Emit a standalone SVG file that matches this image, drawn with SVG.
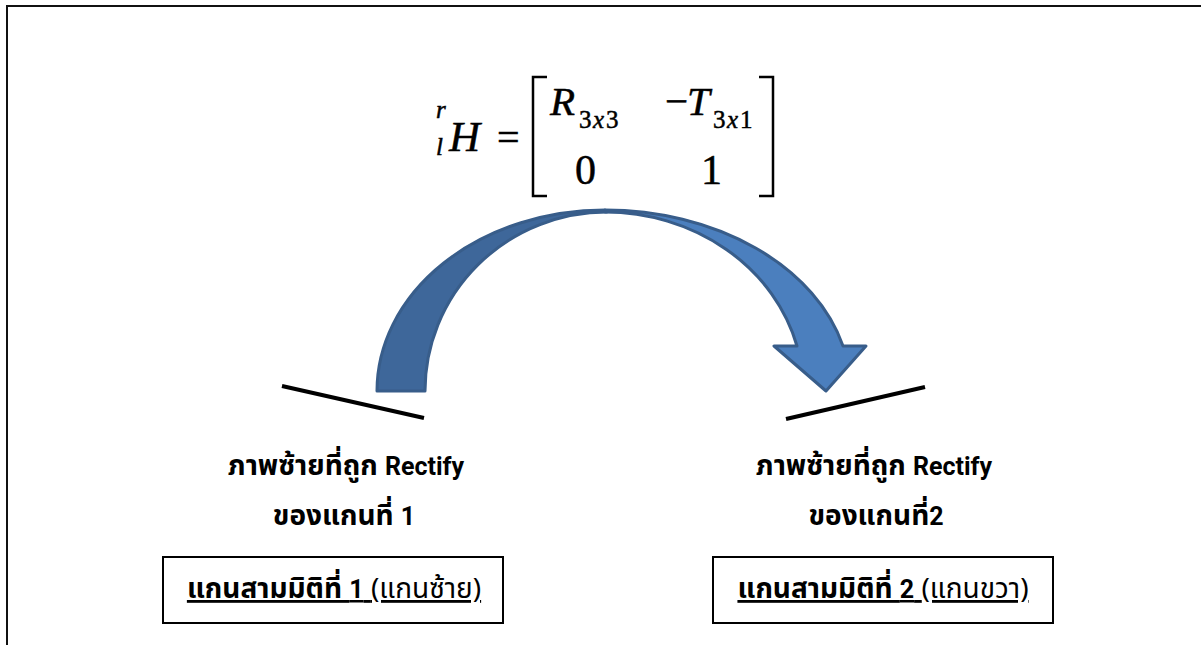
<svg xmlns="http://www.w3.org/2000/svg" width="1201" height="645" viewBox="0 0 1201 645">
<style>
.eq{font-family:"Liberation Serif","Times New Roman",serif;fill:#000;stroke:#000;stroke-width:0.5}
.it{font-style:italic}
.lbl{font-family:"Noto Sans Thai","Noto Sans",Roboto,"DejaVu Sans",sans-serif;font-weight:bold;font-size:28px;fill:#000;text-anchor:middle}
.lat{font-family:Roboto,"Liberation Sans",sans-serif;font-weight:bold;font-size:25px}
.reg{font-weight:normal}
.box{fill:#fff;stroke:#000;stroke-width:2}
.plane{stroke:#000;stroke-width:4;stroke-linecap:butt}
.brk{fill:none;stroke:#000;stroke-width:2.5}
</style>
<rect x="0" y="0" width="1201" height="645" fill="#fff"/>
<path d="M7,645 V6 H1201" fill="none" stroke="#111" stroke-width="2"/>

<g id="equation">
  <text class="eq it" x="436" y="118" font-size="25">r</text>
  <text class="eq it" x="436" y="155" font-size="25">l</text>
  <text class="eq it" x="449" y="151" font-size="43">H</text>
  <text class="eq" x="497" y="151" font-size="40">=</text>
  <path class="brk" d="M547,77 H533 V196 H547"/>
  <path class="brk" d="M759,77 H773 V196 H759"/>
  <text class="eq it" x="550" y="115" font-size="41">R</text>
  <text class="eq" x="579" y="128" font-size="25">3</text>
  <text class="eq it" x="593" y="128" font-size="25">x</text>
  <text class="eq" x="606" y="128" font-size="25">3</text>
  <text class="eq" x="665" y="115" font-size="41">−</text>
  <text class="eq it" x="687" y="115" font-size="41">T</text>
  <text class="eq" x="713" y="128" font-size="25">3</text>
  <text class="eq it" x="727" y="128" font-size="25">x</text>
  <text class="eq" x="740" y="128" font-size="25">1</text>
  <text class="eq" x="575" y="184" font-size="42">0</text>
  <text class="eq" x="701" y="184" font-size="42">1</text>
</g>

<g id="connectors">
  <path id="arrow-back" d="M377,391 A228,181 0 0 1 605,210 L607,212 A182,179 0 0 0 425,391 Z" fill="#3E679A" stroke="#385D8A" stroke-width="3" stroke-linejoin="round"/>
  <path id="arrow-front" d="M605,210 A245.7,181 0 0 1 843,346 L866,346 L826,391 L774,346 L797,346 A198.4,179 0 0 0 605,212 Z" fill="#4B7FBE" stroke="#385D8A" stroke-width="3" stroke-linejoin="round"/>
</g>

<g id="left-plane">
  <line class="plane" x1="282" y1="386" x2="424" y2="418"/>
  <text class="lbl" x="346" y="475">ภาพซ้ายที่ถูก <tspan class="lat">Rectify</tspan></text>
  <text class="lbl" x="344" y="525">ของแกนที่ <tspan class="lat">1</tspan></text>
</g>
<g id="left-box">
  <rect class="box" x="163" y="557" width="340" height="66"/>
  <text class="lbl" x="334" y="598" text-decoration="underline">แกนสามมิติที่ <tspan class="lat">1</tspan> <tspan class="reg">(แกนซ้าย)</tspan></text>
</g>

<g id="right-plane">
  <line class="plane" x1="786" y1="419" x2="925" y2="387"/>
  <text class="lbl" x="874" y="475">ภาพซ้ายที่ถูก <tspan class="lat">Rectify</tspan></text>
  <text class="lbl" x="876" y="525">ของแกนที่<tspan class="lat">2</tspan></text>
</g>
<g id="right-box">
  <rect class="box" x="713" y="557" width="340" height="66"/>
  <text class="lbl" x="883" y="598" text-decoration="underline">แกนสามมิติที่ <tspan class="lat">2</tspan> <tspan class="reg">(แกนขวา)</tspan></text>
</g>
</svg>
